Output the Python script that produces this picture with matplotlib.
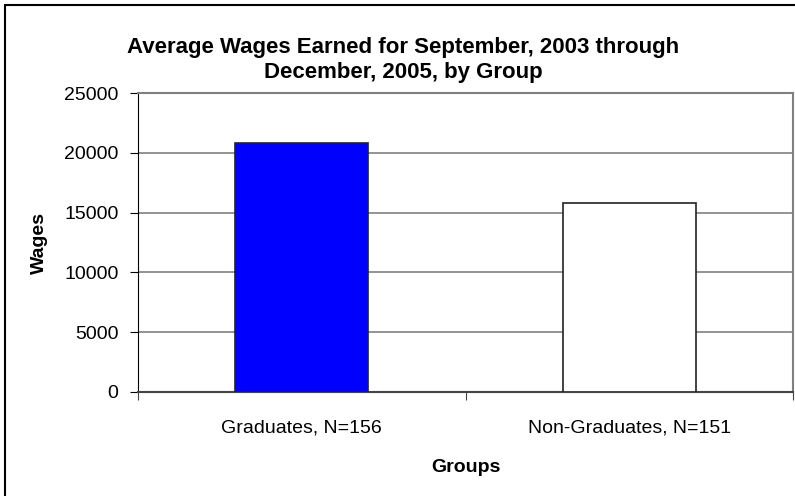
import matplotlib.pyplot as plt
from matplotlib.patches import Rectangle

plt.rcParams["font.family"] = ["Liberation Sans", "DejaVu Sans"]

# Средняя зарплата по группам
groups = ["Graduates, N=156", "Non-Graduates, N=151"]
wages = [20850, 15800]
bar_colors = ["#0000FF", "#FFFFFF"]
y_ticks = [0, 5000, 10000, 15000, 20000, 25000]

W, H = 795, 496
fig = plt.figure(figsize=(W / 100, H / 100), dpi=100)

# рамка всей диаграммы (правый и нижний края срезаны)
fig.patches.append(
    Rectangle((5 / W, -0.1), 1.2, 1 - 5 / H + 0.1, transform=fig.transFigure,
              fill=False, edgecolor="black", linewidth=1.5)
)

ax = fig.add_axes([138 / W, 1 - 392 / H, (793 - 138) / W, (392 - 93) / H])

x = [i + 0.5 for i in range(len(groups))]
ax.bar(x, wages, width=0.406, color=bar_colors, edgecolor="#222222",
       linewidth=1.2, zorder=3)

ax.set_xlim(0, len(groups))
ax.set_ylim(0, 25000)
ax.set_yticks(y_ticks)
ax.yaxis.grid(True, color="#808080", linewidth=1.2, zorder=0)

# метки категорий по центрам, засечки на границах
ax.set_xticks(range(len(groups) + 1))
ax.set_xticklabels([])
ax.set_xticks(x, minor=True)
ax.set_xticklabels(groups, minor=True)
ax.tick_params(axis="x", which="minor", length=0, pad=20, labelsize=14)
ax.tick_params(axis="x", which="major", length=6, color="#444444")
ax.tick_params(axis="y", length=6, labelsize=14, pad=8)

for side in ("top", "right"):
    ax.spines[side].set_color("#808080")
    ax.spines[side].set_linewidth(1.5)
ax.spines["left"].set_color("black")
ax.spines["bottom"].set_color("#444444")
ax.spines["bottom"].set_linewidth(1.5)

ax.set_xlabel("Groups", fontsize=14, fontweight="bold", labelpad=16)
ax.set_ylabel("Wages", fontsize=14, fontweight="bold", labelpad=12)

fig.text(403 / W, 1 - 60 / H,
         "Average Wages Earned for September, 2003 through\nDecember, 2005, by Group",
         ha="center", va="center", fontsize=16, fontweight="bold",
         linespacing=1.25)

fig.savefig("out.png", dpi=100)
